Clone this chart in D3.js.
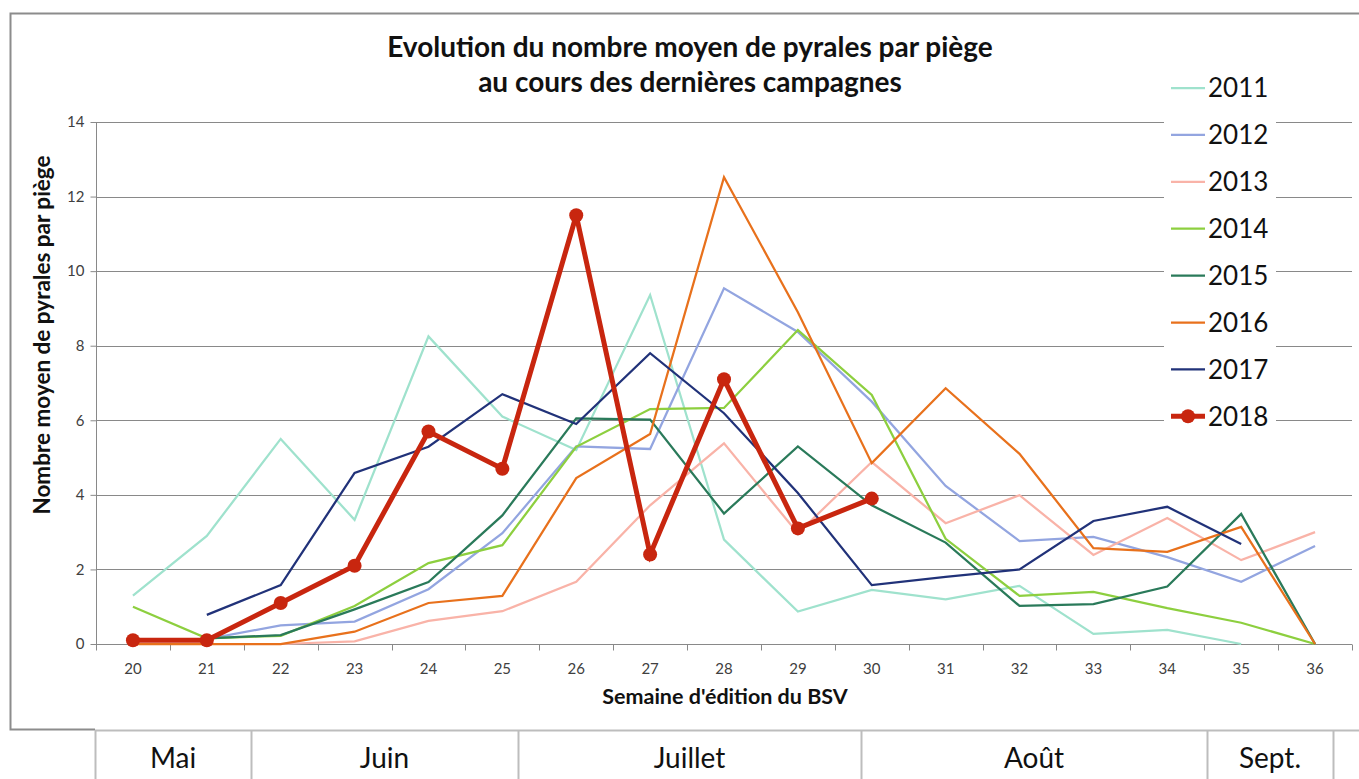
<!DOCTYPE html>
<html>
<head>
<meta charset="utf-8">
<script src="https://cdn.jsdelivr.net/npm/d3@7"></script>
<style>
  body { margin: 0; background: #fff; }
  svg { display: block; font-family: Lato, "Open Sans", sans-serif; }
</style>
</head>
<body>
<svg id="chart" width="1359" height="779"></svg>
<script>
// ---- Data ----
const weeks = [20,21,22,23,24,25,26,27,28,29,30,31,32,33,34,35,36];
const yTicks = [0,2,4,6,8,10,12,14];
const years = ["2011","2012","2013","2014","2015","2016","2017","2018"];
// values aligned with weeks; null = no data
const s2011 = [1.3, 2.9, 5.5, 3.33, 8.25, 6.1, 5.2, 9.36, 2.8, 0.87, 1.45, 1.2, 1.56, 0.27, 0.38, 0, null];
const s2012 = [null, 0.13, 0.5, 0.6, 1.47, 2.97, 5.3, 5.23, 9.54, 8.37, 6.5, 4.24, 2.76, 2.87, 2.33, 1.67, 2.63];
const s2013 = [null, null, 0, 0.07, 0.62, 0.88, 1.67, 3.72, 5.38, 2.97, 4.88, 3.24, 3.99, 2.39, 3.38, 2.25, 3.0];
const s2014 = [1.0, 0.15, 0.22, 1.02, 2.17, 2.65, 5.29, 6.3, 6.33, 8.42, 6.68, 2.82, 1.29, 1.4, 0.96, 0.57, 0];
const s2015 = [null, 0.15, 0.24, 0.93, 1.66, 3.45, 6.05, 6.02, 3.5, 5.3, 3.72, 2.72, 1.02, 1.07, 1.54, 3.49, 0];
const s2016 = [0, 0, 0, 0.33, 1.1, 1.29, 4.45, 5.63, 12.52, 8.9, 4.85, 6.86, 5.1, 2.57, 2.47, 3.14, 0];
const s2017 = [null, 0.78, 1.58, 4.59, 5.29, 6.7, 5.9, 7.8, 6.19, 4.05, 1.58, 1.8, 2.0, 3.3, 3.68, 2.68, null];
const s2018 = [0.1, 0.1, 1.1, 2.1, 5.7, 4.7, 11.5, 2.4, 7.1, 3.1, 3.9, null, null, null, null, null, null];
const months = ["Mai","Juin","Juillet","Août","Sept."];
const monthEdges = [95, 251, 518, 861, 1207, 1333];

const title1 = "Evolution du nombre moyen de pyrales par piège";
const title2 = "au cours des dernières campagnes";
const yTitle = "Nombre  moyen de pyrales par piège";
const xTitle = "Semaine d'édition du BSV";

const colors = {
  "2011": "#9fe2cd", "2012": "#93a5e0", "2013": "#f9b3a8", "2014": "#8dcf3f",
  "2015": "#2a7a5a", "2016": "#e8711c", "2017": "#213279", "2018": "#c8260f"
};
const seriesValues = [s2011, s2012, s2013, s2014, s2015, s2016, s2017, s2018];
const series = years.map((y, i) => ({
  year: y,
  points: weeks.map((w, j) => ({ w, v: seriesValues[i][j] }))
}));

// ---- Layout ----
const svg = d3.select("#chart");
const plot = { left: 96, right: 1352, top: 122, bottom: 644 };

const xBand = d3.scaleBand().domain(weeks).range([plot.left, plot.right]).padding(0);
const x = w => xBand(w) + xBand.bandwidth() / 2;
const y = d3.scaleLinear().domain([0, 14]).range([plot.bottom, plot.top]);

// outer chart border (left, top, bottom)
svg.append("path")
  .attr("d", `M1359,13.5 H10.5 V729.5 H95`)
  .attr("fill", "none").attr("stroke", "#8c8c8c").attr("stroke-width", 2);

// gridlines
svg.append("g").selectAll("line").data(yTicks.filter(d => d > 0)).join("line")
  .attr("x1", plot.left).attr("x2", plot.right)
  .attr("y1", d => Math.round(y(d)) + 0.5).attr("y2", d => Math.round(y(d)) + 0.5)
  .attr("stroke", "#898989").attr("stroke-width", 1);

// y axis
const yAxis = d3.axisLeft(y).tickValues(yTicks).tickSize(6).tickPadding(6).tickFormat(d3.format("d"));
const gy = svg.append("g").attr("transform", `translate(${plot.left + 0.5},0)`).call(yAxis);
gy.select(".domain").attr("stroke", "#898989").attr("d", `M-0,${plot.top}V${plot.bottom}`);
gy.selectAll(".tick line").attr("stroke", "#898989");
gy.selectAll(".tick text").attr("font-size", 15).attr("fill", "#404040")
  .attr("font-family", "Lato, sans-serif");

// x axis (labels centered, ticks at category boundaries)
const xAxis = d3.axisBottom(xBand).tickSize(0).tickPadding(19);
const gx = svg.append("g").attr("transform", `translate(0,${plot.bottom + 0.5})`).call(xAxis);
gx.select(".domain").attr("stroke", "#898989").attr("d", `M${plot.left},0H${plot.right}`);
gx.selectAll(".tick text").attr("font-size", 15).attr("fill", "#404040")
  .attr("font-family", "Lato, sans-serif");
const boundaries = weeks.map(w => xBand(w)).concat([xBand(weeks[weeks.length - 1]) + xBand.step()]);
gx.append("g").selectAll("line").data(boundaries).join("line")
  .attr("x1", d => Math.round(d) + 0.5).attr("x2", d => Math.round(d) + 0.5)
  .attr("y1", 0).attr("y2", 6).attr("stroke", "#898989");

// lines
const line = d3.line().defined(d => d.v !== null).x(d => x(d.w)).y(d => y(d.v));
const gLines = svg.append("g");
series.forEach(s => {
  const is18 = s.year === "2018";
  gLines.append("path").datum(s.points)
    .attr("d", line)
    .attr("fill", "none")
    .attr("stroke", colors[s.year])
    .attr("stroke-width", is18 ? 5 : 2.25)
    .attr("stroke-linejoin", "miter");
  if (is18) {
    gLines.append("g").selectAll("circle").data(s.points.filter(d => d.v !== null)).join("circle")
      .attr("cx", d => x(d.w)).attr("cy", d => y(d.v)).attr("r", 7)
      .attr("fill", colors[s.year]);
  }
});

// title
svg.append("text").attr("x", 690).attr("y", 57).attr("text-anchor", "middle")
  .attr("font-size", 28).attr("font-weight", "bold").attr("fill", "#111").text(title1);
svg.append("text").attr("x", 690).attr("y", 92).attr("text-anchor", "middle")
  .attr("font-size", 28).attr("font-weight", "bold").attr("fill", "#111").text(title2);

// axis titles
svg.append("text").attr("transform", "translate(50,335) rotate(-90)").attr("text-anchor", "middle")
  .attr("font-size", 22.5).attr("font-weight", "bold").attr("fill", "#111").text(yTitle);
svg.append("text").attr("x", 725).attr("y", 704).attr("text-anchor", "middle")
  .attr("font-size", 21.5).attr("font-weight", "bold").attr("fill", "#111").text(xTitle);

// legend
const legend = svg.append("g");
legend.append("rect").attr("x", 1164).attr("y", 64).attr("width", 112).attr("height", 375).attr("fill", "#fff");
const ly = i => 88 + i * 46.9;
years.forEach((yr, i) => {
  const g = legend.append("g").attr("transform", `translate(0,${ly(i)})`);
  const is18 = yr === "2018";
  g.append("line").attr("x1", 1171).attr("x2", 1205).attr("y1", 0).attr("y2", 0)
    .attr("stroke", colors[yr]).attr("stroke-width", is18 ? 5 : 2.25);
  if (is18) g.append("circle").attr("cx", 1188).attr("cy", 0).attr("r", 7).attr("fill", colors[yr]);
  g.append("text").attr("x", 1208).attr("y", 0).attr("dy", "0.36em")
    .attr("font-size", 26).attr("fill", "#111").text(yr);
});

// month table
const mt = svg.append("g");
mt.append("line").attr("x1", 95).attr("x2", 1359).attr("y1", 730.5).attr("y2", 730.5)
  .attr("stroke", "#bdbdbd").attr("stroke-width", 2);
mt.selectAll("line.v").data(monthEdges).join("line").attr("class", "v")
  .attr("x1", d => d + 0.5).attr("x2", d => d + 0.5).attr("y1", 730).attr("y2", 779)
  .attr("stroke", "#bdbdbd").attr("stroke-width", 2);
mt.selectAll("text").data(months).join("text")
  .attr("x", (d, i) => (monthEdges[i] + monthEdges[i + 1]) / 2)
  .attr("y", 768).attr("text-anchor", "middle")
  .attr("font-size", 28).attr("fill", "#111").text(d => d);
</script>
</body>
</html>
